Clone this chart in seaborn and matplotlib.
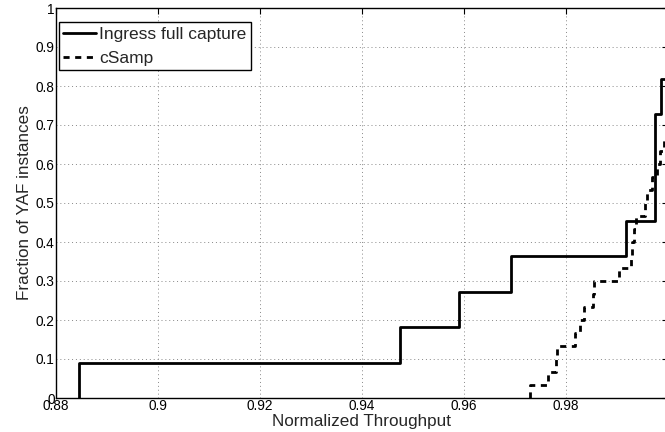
import numpy as np
import pandas as pd
import matplotlib
matplotlib.use("Agg")
import matplotlib.pyplot as plt
import seaborn as sns

# Normalized throughput of each YAF instance
ingress_full = [0.8846, 0.9475, 0.9590, 0.9692, 0.9918, 0.99745, 0.99745, 0.9975,
                0.9986, 0.9997, 1.0]
csamp = [0.9729, 0.9765, 0.9780, 0.9782, 0.9818, 0.9827, 0.9835, 0.9853, 0.9855,
         0.9904, 0.9928, 0.9929, 0.9933, 0.9937, 0.9955, 0.9959, 0.9969, 0.9978,
         0.9984, 0.9992, 0.9996, 0.9997, 0.9998, 0.9998, 0.9999, 0.9999, 1.0, 1.0,
         1.0, 1.0]
series_names = ["Ingress full capture", "cSamp"]
x_ticks = [0.88, 0.90, 0.92, 0.94, 0.96, 0.98, 1.00]
x_tick_labels = ["0.88", "0.9", "0.92", "0.94", "0.96", "0.98", "1"]
y_ticks = [0, 0.1, 0.2, 0.3, 0.4, 0.5, 0.6, 0.7, 0.8, 0.9, 1.0]
y_tick_labels = ["0", "0.1", "0.2", "0.3", "0.4", "0.5", "0.6", "0.7", "0.8", "0.9", "1"]

sns.set_style("white")
plt.rcParams["font.family"] = ["Liberation Sans", "DejaVu Sans"]

fig = plt.figure(figsize=(6.65, 4.32), dpi=100)
W, H = 665, 432
left, right, top, bottom = 56, 668, 8, 398
ax = fig.add_axes([left / W, (H - bottom) / H, (right - left) / W, (bottom - top) / H])

sns.ecdfplot(x=ingress_full, ax=ax, color="black", lw=2.0, label=series_names[0])
sns.ecdfplot(x=csamp, ax=ax, color="black", lw=2.0, ls=(0, (2.2, 2.0)),
             label=series_names[1])

ax.set_xlim(0.88, 1.0)
ax.set_ylim(0, 1)
ax.set_xticks(x_ticks)
ax.set_xticklabels(x_tick_labels)
ax.set_yticks(y_ticks)
ax.set_yticklabels(y_tick_labels)
ax.tick_params(direction="in", length=4, width=0.8, labelsize=9.8, pad=1.0,
               colors="black", top=True, right=True)
ax.grid(True, ls=(0, (1, 3)), color="#888888", lw=0.7)
for s in ax.spines.values():
    s.set_color("black")
    s.set_linewidth(1.0)
ax.set_xlabel("Normalized Throughput", fontsize=12.3, labelpad=0.5)
ax.set_ylabel("Fraction of YAF instances", fontsize=12.3, labelpad=3)

leg = ax.legend(loc="upper left", bbox_to_anchor=(0.005, 0.963), fontsize=12.5,
                frameon=True, fancybox=False, edgecolor="black", framealpha=1,
                handlelength=1.9, handletextpad=0.15, borderpad=0.25,
                labelspacing=0.5, borderaxespad=0)
leg.get_frame().set_linewidth(1.0)

fig.savefig("out.png", dpi=100)
